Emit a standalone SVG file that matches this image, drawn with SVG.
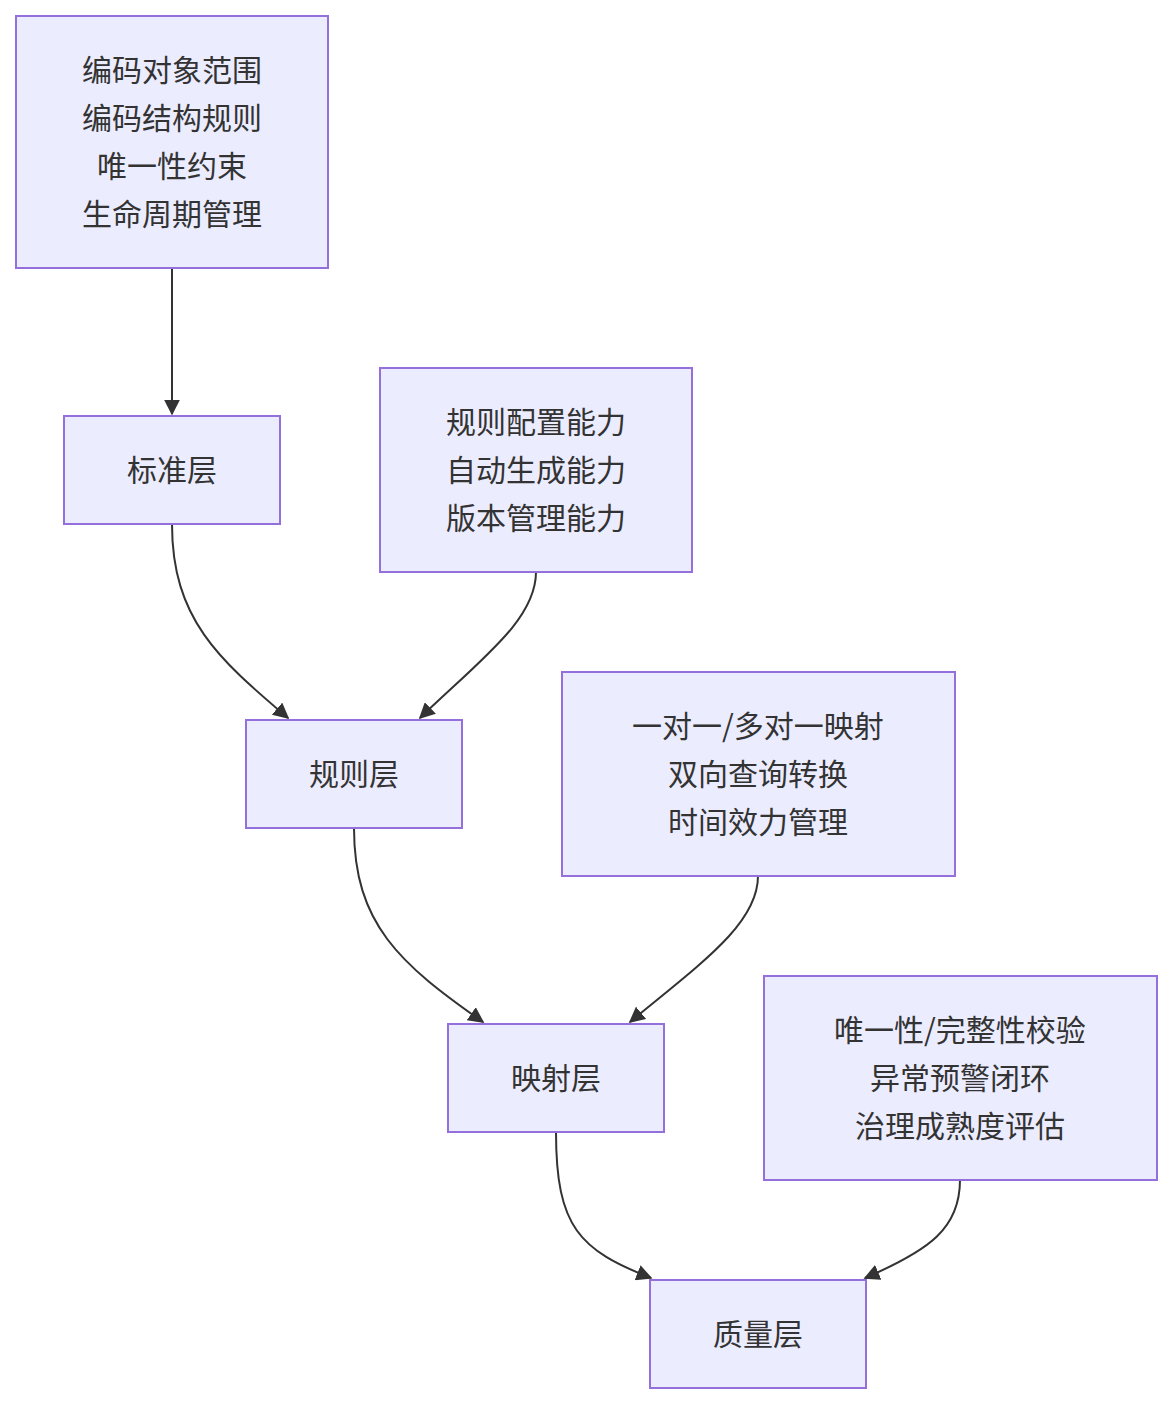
<svg xmlns="http://www.w3.org/2000/svg" width="1172" height="1404" viewBox="0 0 1172 1404">
<style>
.n{fill:#ECECFF;stroke:#9370DB;stroke-width:2}
.t{font-family:"Noto Sans CJK SC","Liberation Sans",sans-serif;font-size:30px;fill:#333;text-anchor:middle}
.e{fill:none;stroke:#333;stroke-width:2;marker-end:url(#a)}
</style>
<defs><marker id="a" viewBox="0 0 10 10" refX="9" refY="5" markerWidth="8" markerHeight="8" orient="auto"><path d="M0,0L10,5L0,10z" fill="#333"/></marker></defs>
<rect width="1172" height="1404" fill="#fff"/>
<g id="edges">
<path class="e" d="M172,268V414"/>
<path class="e" d="M172,524C172,620 220,660 288,718"/>
<path class="e" d="M536,572C536,620 480,660 420,718"/>
<path class="e" d="M354,828C354,924 400,964 483,1022"/>
<path class="e" d="M758,876C758,924 700,964 630,1022"/>
<path class="e" d="M556,1132C556,1228 580,1250 651,1278"/>
<path class="e" d="M960,1180C960,1228 930,1250 865,1278"/>
</g>
<g id="n1"><rect class="n" x="16" y="16" width="312" height="252"/><text class="t" x="172" y="81">编码对象范围</text><text class="t" x="172" y="129">编码结构规则</text><text class="t" x="172" y="177">唯一性约束</text><text class="t" x="172" y="225">生命周期管理</text></g>
<g id="n2"><rect class="n" x="64" y="416" width="216" height="108"/><text class="t" x="172" y="481">标准层</text></g>
<g id="n3"><rect class="n" x="380" y="368" width="312" height="204"/><text class="t" x="536" y="433">规则配置能力</text><text class="t" x="536" y="481">自动生成能力</text><text class="t" x="536" y="529">版本管理能力</text></g>
<g id="n4"><rect class="n" x="246" y="720" width="216" height="108"/><text class="t" x="354" y="785">规则层</text></g>
<g id="n5"><rect class="n" x="562" y="672" width="393" height="204"/><text class="t" x="758" y="737">一对一/多对一映射</text><text class="t" x="758" y="785">双向查询转换</text><text class="t" x="758" y="833">时间效力管理</text></g>
<g id="n6"><rect class="n" x="448" y="1024" width="216" height="108"/><text class="t" x="556" y="1089">映射层</text></g>
<g id="n7"><rect class="n" x="764" y="976" width="393" height="204"/><text class="t" x="960" y="1041">唯一性/完整性校验</text><text class="t" x="960" y="1089">异常预警闭环</text><text class="t" x="960" y="1137">治理成熟度评估</text></g>
<g id="n8"><rect class="n" x="650" y="1280" width="216" height="108"/><text class="t" x="758" y="1345">质量层</text></g>
</svg>
